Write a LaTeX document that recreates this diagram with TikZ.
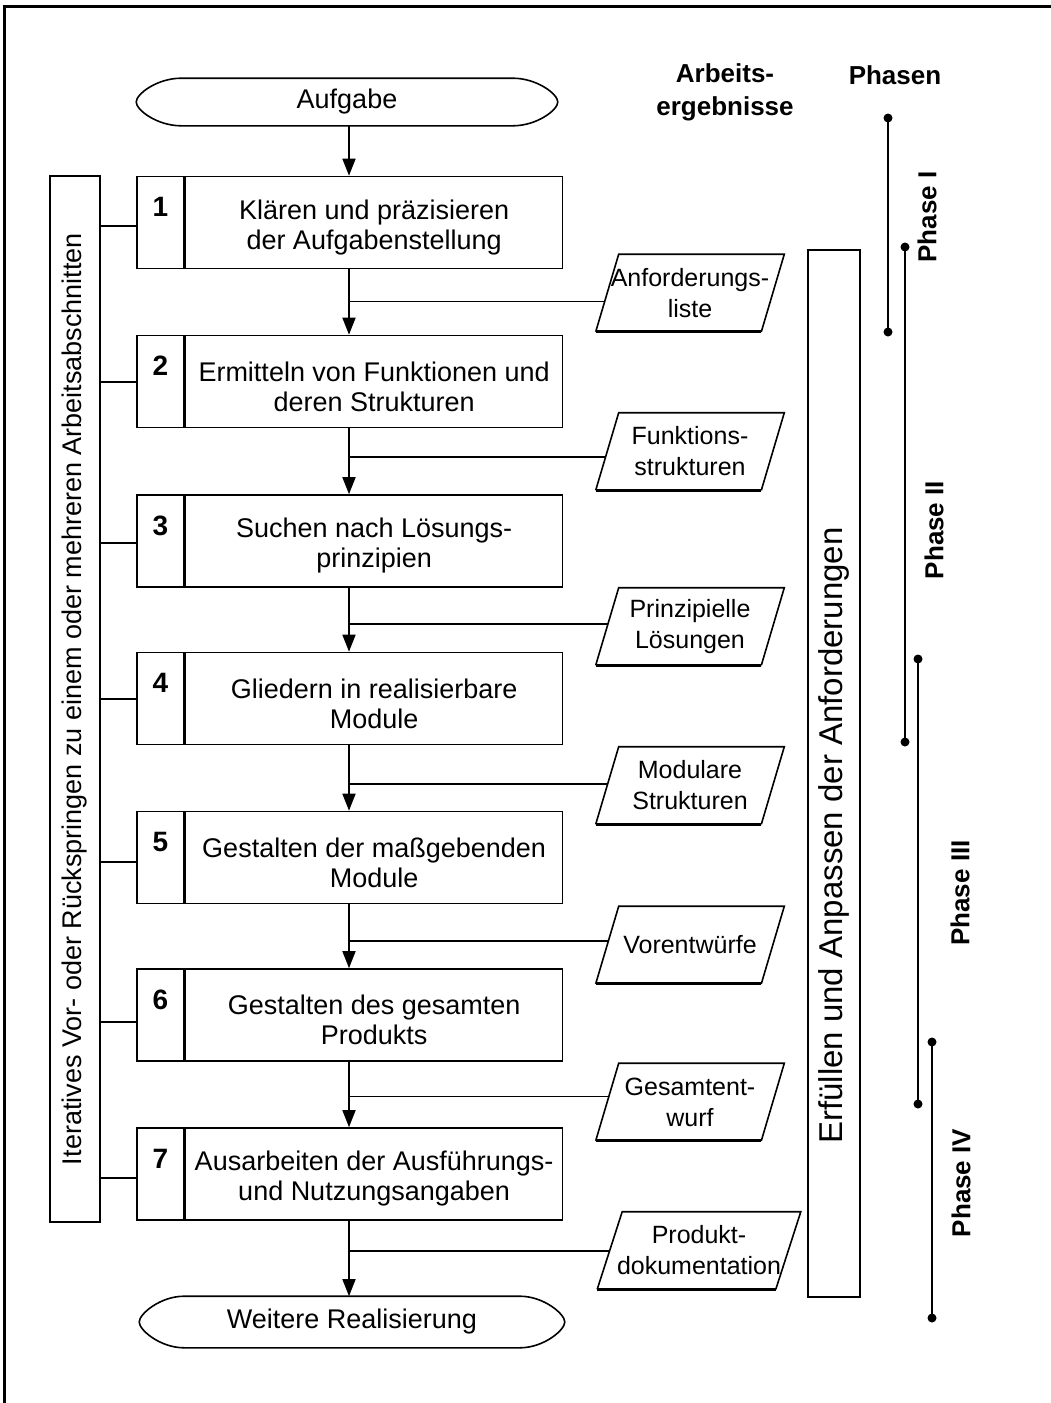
\documentclass[tikz,border=0pt]{standalone}
\usepackage{fontspec}
\setmainfont{Liberation Sans}
\usetikzlibrary{arrows.meta,calc}
\newcommand\fmain{\fontsize{27}{30}\selectfont}
\newcommand\freq{\fontsize{33}{36}\selectfont}
\newcommand\fpar{\fontsize{25}{31}\selectfont}
\newcommand\fnum{\fontsize{28}{30}\selectfont\bfseries}
\newcommand\fhead{\fontsize{26}{33}\selectfont\bfseries}
\newcommand\termoutline[1]{%
  \draw ([xshift=45pt]#1.north west) -- ([xshift=-45pt]#1.north east)
    .. controls +(24,0) and +(0,-8) .. (#1.east)
    .. controls +(0,8) and +(24,0) .. ([xshift=-45pt]#1.south east)
    -- ([xshift=45pt]#1.south west)
    .. controls +(-24,0) and +(0,8) .. (#1.west)
    .. controls +(0,-8) and +(-24,0) .. ([xshift=45pt]#1.north west) -- cycle;}
\newcommand\paraoutline[2]{%
  \draw ([xshift=-#2pt]#1.south west) -- ([xshift=#2pt]#1.north west)
     -- ([xshift=#2pt]#1.north east) -- ([xshift=-#2pt]#1.south east);
  \draw[line width=2.8pt] ([xshift=-#2pt]#1.south east) -- ([xshift=-#2pt]#1.south west);}
\begin{document}
\begin{tikzpicture}[x=1pt,y=-1pt,
  line width=1.6pt,
  box/.style={draw, rectangle, minimum height=92pt, inner sep=0pt},
  numcell/.style={box, minimum width=47pt},
  stepbody/.style={box, minimum width=377pt},
  txt/.style={align=center, font=\fmain, inner sep=0pt},
  numtxt/.style={font=\fnum, inner sep=0pt, anchor=base},
  term/.style={minimum width=420pt, minimum height=46pt, inner sep=0pt, font=\fmain},
  para/.style={minimum width=164pt, minimum height=76pt, inner sep=0pt, align=center, font=\fpar},
  head/.style={font=\fhead, align=center, inner sep=0pt},
  phlabel/.style={font=\fhead, rotate=90, inner sep=0pt},
  flow/.style={-{Triangle[length=17pt,width=13pt]}},
  phline/.style={line width=1.8pt},
]
\useasboundingbox (0,0) rectangle (1050,1403);
\fill[white] (0,0) rectangle (1050,1403);
% frame
\draw[line width=3pt] (4,1450) -- (4,6.5) -- (1100,6.5);

\coordinate (ax) at (349,0);

% terminals
\node[term] (auf) at (347,102) {Aufgabe};
\termoutline{auf}
\node[term, minimum width=424pt, minimum height=50pt] (wr) at (352,1322) {Weitere Realisierung};
\termoutline{wr}

% step boxes
\foreach \i/\y/\t in {1/222.5/{Klären und präzisieren\\der Aufgabenstellung},
                      2/381.5/{Ermitteln von Funktionen und\\deren Strukturen},
                      3/541/{Suchen nach Lösungs-\\prinzipien},
                      4/698.5/{Gliedern in realisierbare\\Module},
                      5/857.5/{Gestalten der maßgebenden\\Module},
                      6/1015/{Gestalten des gesamten\\Produkts},
                      7/1174/{Ausarbeiten der Ausführungs-\\und Nutzungsangaben}}{
  \node[numcell] (n\i) at (160.5,\y) {};
  \node[stepbody, anchor=west] (b\i) at (n\i.east) {};
  \node[numtxt] (k\i) at ([yshift=-41pt]n\i.north) {\i};
  \node[txt] (t\i) at ([yshift=-5pt]b\i.center) {\t};
}

% left iterative box
\node[draw, minimum width=50pt, minimum height=1046pt, inner sep=0pt] (it) at (75,699) {};
\node[font=\fmain, rotate=90, inner sep=0pt] (itt) at (it.center)
  {Iteratives Vor- oder Rückspringen zu einem oder mehreren Arbeitsabschnitten};
\foreach \i/\d in {1/3.5,2/0.5,3/2,4/0.5,5/4.5,6/7,7/4}{
  \draw ([yshift=-\d pt]n\i.west) coordinate (q\i) -- (it.east |- q\i);
}

% right requirement box
\node[draw, minimum width=52pt, minimum height=1047pt, inner sep=0pt] (er) at (834,773.5) {};
\node[font=\freq, rotate=90, inner sep=0pt] (ert) at ([yshift=-62pt]er.center)
  {Erfüllen und Anpassen der Anforderungen};

% parallelograms (work results)
\node[para] (p1) at (690,293) {Anforderungs-\\liste};
\node[para] (p2) at (690,451.5) {Funktions-\\strukturen};
\node[para] (p3) at (690,626.5) {Prinzipielle\\Lösungen};
\node[para] (p4) at (690,785.5) {Modulare\\Strukturen};
\node[para] (p5) at (690,945) {Vorentwürfe};
\node[para] (p6) at (690,1102) {Gesamtent-\\wurf};
\node[para, minimum width=177pt] (p7) at (699,1250.5) {Produkt-\\dokumentation};
\foreach \p in {1,...,6}{\paraoutline{p\p}{11.5}}
\paraoutline{p7}{12.5}

% flow arrows
\draw[flow] (auf.south -| ax) -- (b1.north -| ax);
\foreach \i/\j in {1/2,2/3,3/4,4/5,5/6,6/7}{
  \draw[flow] (b\i.south -| ax) -- (b\j.north -| ax);
}
\draw[flow] (b7.south -| ax) -- (wr.north -| ax);

% connectors from results
\foreach \p/\f in {1/0.39,2/0.43,3/0.53,4/0.52,5/0.55,6/0.57}{
  \coordinate (c\p) at ($([xshift=-11.5pt]p\p.south west)!\f!([xshift=11.5pt]p\p.north west)$);
  \draw (c\p) -- (c\p -| ax);
}
\coordinate (c7) at ($([xshift=-12.5pt]p7.south west)!0.49!([xshift=12.5pt]p7.north west)$);
\draw (c7) -- (c7 -| ax);

% headers
\node[head] (h1) at (725,92) {Arbeits-\\ergebnisse};
\node[head] (h2) at (895,75) {Phasen};

% phases
\coordinate (ph1a) at (888,118);  \coordinate (ph1b) at (888,332);
\coordinate (ph2a) at (905,247);  \coordinate (ph2b) at (905,742);
\coordinate (ph3a) at (918,659);  \coordinate (ph3b) at (918,1104);
\coordinate (ph4a) at (932,1042); \coordinate (ph4b) at (932,1318);
\foreach \k in {1,2,3,4}{
  \draw[phline] (ph\k a) -- (ph\k b);
  \fill (ph\k a) circle (4.5pt);
  \fill (ph\k b) circle (4.5pt);
}
\node[phlabel] (l1) at (927,217) {Phase I};
\node[phlabel] (l2) at (934,530) {Phase II};
\node[phlabel] (l3) at (960,893) {Phase III};
\node[phlabel] (l4) at (961,1183) {Phase IV};
\end{tikzpicture}
\end{document}
